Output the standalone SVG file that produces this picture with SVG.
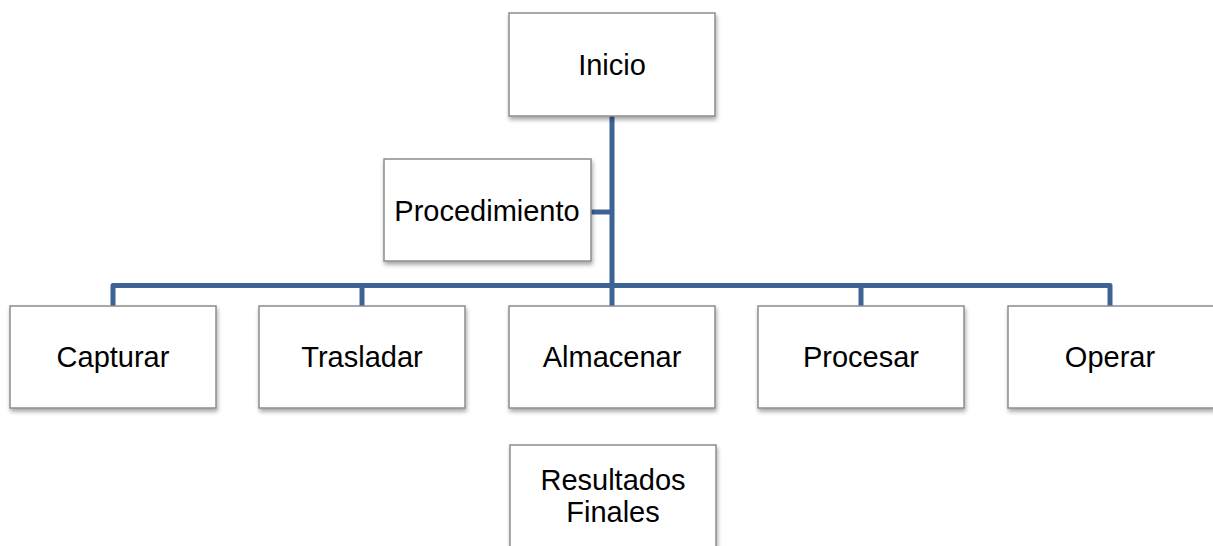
<svg xmlns="http://www.w3.org/2000/svg" width="1213" height="546" viewBox="0 0 1213 546">
<defs>
<filter id="sh" x="-10%" y="-10%" width="125%" height="130%">
<feGaussianBlur in="SourceAlpha" stdDeviation="2"/>
<feOffset dx="1" dy="3" result="b"/>
<feComponentTransfer><feFuncA type="linear" slope="0.35"/></feComponentTransfer>
<feMerge><feMergeNode/><feMergeNode in="SourceGraphic"/></feMerge>
</filter>
</defs>
<style>
.box{fill:#ffffff;stroke:#8c8c8c;stroke-width:1.5;filter:url(#sh)}
.t{font-family:"Liberation Sans",Arial,sans-serif;font-size:29px;fill:#000000;text-anchor:middle}
.c{fill:none;stroke:#3d6396;stroke-width:5;stroke-linejoin:round}
</style>
<rect width="1213" height="546" fill="#ffffff"/>
<g id="connectors">
<path class="c" d="M612 116 V285.5"/>
<path class="c" d="M591 212 H612"/>
<path class="c" d="M113 306 V285.5 H1110 V306"/>
<path class="c" d="M362 285.5 V306"/>
<path class="c" d="M612 285.5 V306"/>
<path class="c" d="M861 285.5 V306"/>
</g>
<g id="inicio"><rect class="box" x="509" y="13" width="206" height="103"/><text class="t" x="612" y="75">Inicio</text></g>
<g id="procedimiento"><rect class="box" x="384" y="159" width="207" height="102"/><text class="t" x="487" y="221">Procedimiento</text></g>
<g id="capturar"><rect class="box" x="10" y="306" width="206" height="102"/><text class="t" x="113" y="367">Capturar</text></g>
<g id="trasladar"><rect class="box" x="259" y="306" width="206" height="102"/><text class="t" x="362" y="367">Trasladar</text></g>
<g id="almacenar"><rect class="box" x="509" y="306" width="206" height="102"/><text class="t" x="612" y="367">Almacenar</text></g>
<g id="procesar"><rect class="box" x="758" y="306" width="206" height="102"/><text class="t" x="861" y="367">Procesar</text></g>
<g id="operar"><rect class="box" x="1008" y="306" width="206" height="102"/><text class="t" x="1110" y="367">Operar</text></g>
<g id="resultados"><rect class="box" x="510" y="445" width="206" height="110"/><text class="t" x="613" y="490">Resultados</text><text class="t" x="613" y="522">Finales</text></g>
</svg>
